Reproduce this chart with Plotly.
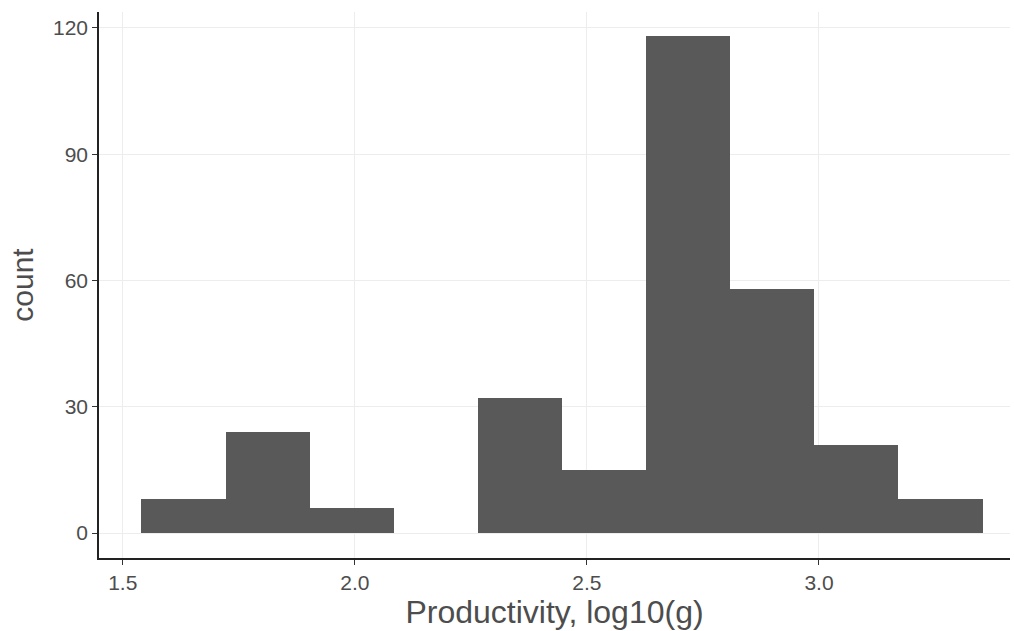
import numpy as np
import plotly.graph_objects as go

# Histogram of productivity (log10 g): 10 equal-width bins
bin_start = 1.5404
bin_width = 0.1812
counts = [8, 24, 6, 0, 32, 15, 118, 58, 21, 8]

x_ticks = [1.5, 2.0, 2.5, 3.0]
x_tick_labels = ["1.5", "2.0", "2.5", "3.0"]
y_ticks = [0, 30, 60, 90, 120]
y_tick_labels = ["0", "30", "60", "90", "120"]

centers = [bin_start + bin_width * (i + 0.5) for i in range(len(counts))]

FONT = "Liberation Sans, Arial, sans-serif"

fig = go.Figure(
    go.Bar(
        x=centers,
        y=counts,
        width=[bin_width] * len(counts),
        marker=dict(color="#595959", line=dict(width=0)),
        hoverinfo="x+y",
    )
)

axis_common = dict(
    showline=True,
    linecolor="#222222",
    linewidth=1.6,
    ticks="outside",
    ticklen=5,
    tickwidth=1.2,
    tickcolor="#333333",
    showgrid=True,
    gridcolor="#ededed",
    gridwidth=1.2,
    zeroline=False,
    tickfont=dict(family=FONT, size=21, color="#4d4d4d"),
    mirror=False,
    automargin=False,
)

fig.update_layout(
    width=1014,
    height=631,
    plot_bgcolor="white",
    paper_bgcolor="white",
    margin=dict(l=99, r=4, t=12, b=73),
    bargap=0,
    showlegend=False,
    xaxis=dict(
        range=[1.4489, 3.4115],
        tickvals=x_ticks,
        ticktext=x_tick_labels,
        title=dict(text="Productivity, log10(g)", standoff=0,
                   font=dict(family=FONT, size=32, color="#4d4d4d")),
        **axis_common,
    ),
    yaxis=dict(
        range=[-5.94, 123.8],
        tickvals=y_ticks,
        ticktext=y_tick_labels,
        title=dict(text="count", standoff=10,
                   font=dict(family=FONT, size=30, color="#4d4d4d")),
        **axis_common,
    ),
)

fig.write_html("out.html")
